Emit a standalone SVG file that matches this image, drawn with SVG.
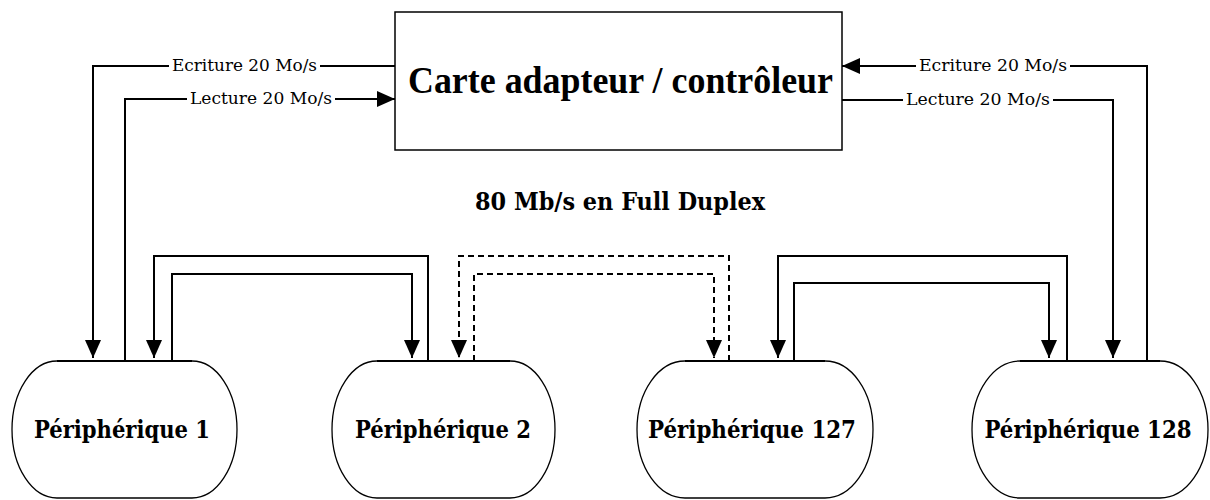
<svg xmlns="http://www.w3.org/2000/svg" width="1210" height="500" viewBox="0 0 1210 500">
  <style>
    .wire { fill: none; stroke: #000; stroke-width: 2; }
    .dash { stroke-dasharray: 6 4; }
    .outline { fill: #fff; stroke: #000; stroke-width: 1.3; }
    .lid { stroke: #000; stroke-width: 2; }
    .lbl { font-family: "DejaVu Serif", "Liberation Serif", serif; font-size: 16.5px; fill: #000; }
    .dev { font-family: "DejaVu Serif Condensed", "DejaVu Serif", "Liberation Serif", serif; font-stretch: condensed; font-weight: bold; font-size: 25px; fill: #000; text-anchor: middle; }
    .head { font-family: "Liberation Serif", "Times New Roman", serif; font-weight: bold; font-size: 37px; fill: #000; }
    .rate { font-family: "DejaVu Serif Condensed", "DejaVu Serif", "Liberation Serif", serif; font-stretch: condensed; font-weight: bold; font-size: 25px; fill: #000; }
  </style>
  <defs>
    <marker id="arrow" markerUnits="userSpaceOnUse" markerWidth="18" markerHeight="16" refX="18" refY="8" orient="auto">
      <path d="M0,0 L18,8 L0,16 Z" fill="#000" stroke="none"/>
    </marker>
  </defs>

  <rect width="1210" height="500" fill="#fff"/>

  <!-- controller card -->
  <g id="controleur">
    <rect x="395" y="12" width="447" height="138" fill="#fff" stroke="#000" stroke-width="1.5"/>
    <text class="head" x="408" y="93" textLength="425" lengthAdjust="spacingAndGlyphs">Carte adapteur / contrôleur</text>
  </g>

  <text id="debit" class="rate" x="475" y="210" textLength="290" lengthAdjust="spacingAndGlyphs">80 Mb/s en Full Duplex</text>

  <!-- peripherals: flat top, elliptic sides -->
  <g id="peripherique-1">
    <path class="outline" d="M57,361 H192 A45,68.5 0 0 1 192,498 H57 A45,68.5 0 0 1 57,361 Z"/>
    <line class="lid" x1="57" y1="361" x2="192" y2="361"/>
    <text class="dev" x="122" y="438" textLength="176" lengthAdjust="spacingAndGlyphs">Périphérique 1</text>
  </g>
  <g id="peripherique-2">
    <path class="outline" d="M377,361 H510 A45,68.5 0 0 1 510,498 H377 A45,68.5 0 0 1 377,361 Z"/>
    <line class="lid" x1="377" y1="361" x2="510" y2="361"/>
    <text class="dev" x="443" y="438" textLength="176" lengthAdjust="spacingAndGlyphs">Périphérique 2</text>
  </g>
  <g id="peripherique-127">
    <path class="outline" d="M685,361 H825 A48,68.5 0 0 1 825,498 H685 A48,68.5 0 0 1 685,361 Z"/>
    <line class="lid" x1="685" y1="361" x2="825" y2="361"/>
    <text class="dev" x="752" y="438" textLength="208" lengthAdjust="spacingAndGlyphs">Périphérique 127</text>
  </g>
  <g id="peripherique-128">
    <path class="outline" d="M1020,361 H1160 A48,68.5 0 0 1 1160,498 H1020 A48,68.5 0 0 1 1020,361 Z"/>
    <line class="lid" x1="1020" y1="361" x2="1160" y2="361"/>
    <text class="dev" x="1088" y="438" textLength="207" lengthAdjust="spacingAndGlyphs">Périphérique 128</text>
  </g>

  <g id="connecteurs">
    <!-- left side: card <-> peripheral 1 -->
    <path class="wire" d="M395,66 H320"/>
    <path class="wire" d="M169,66 H93 V358" marker-end="url(#arrow)"/>
    <text class="lbl" x="172" y="71" textLength="145" lengthAdjust="spacingAndGlyphs">Ecriture 20 Mo/s</text>
    <path class="wire" d="M125,361 V99 H187"/>
    <path class="wire" d="M335,99 H395" marker-end="url(#arrow)"/>
    <text class="lbl" x="190" y="104" textLength="142" lengthAdjust="spacingAndGlyphs">Lecture 20 Mo/s</text>

    <!-- right side: card <-> peripheral 128 -->
    <path class="wire" d="M1147,361 V66 H1070"/>
    <path class="wire" d="M916,66 H842" marker-end="url(#arrow)"/>
    <text class="lbl" x="919" y="71" textLength="148" lengthAdjust="spacingAndGlyphs">Ecriture 20 Mo/s</text>
    <path class="wire" d="M842,100 H903"/>
    <path class="wire" d="M1053,100 H1113 V358" marker-end="url(#arrow)"/>
    <text class="lbl" x="906" y="105" textLength="144" lengthAdjust="spacingAndGlyphs">Lecture 20 Mo/s</text>

    <!-- chain 1 <-> 2 -->
    <path class="wire" d="M428,361 V256 H154 V358" marker-end="url(#arrow)"/>
    <path class="wire" d="M172,361 V274 H412 V358" marker-end="url(#arrow)"/>

    <!-- chain 2 <-> 127 (elided devices) -->
    <path class="wire dash" d="M729,361 V256 H459 V358" marker-end="url(#arrow)"/>
    <path class="wire dash" d="M474,361 V274 H714 V358" marker-end="url(#arrow)"/>

    <!-- chain 127 <-> 128 -->
    <path class="wire" d="M1067,361 V256 H778 V358" marker-end="url(#arrow)"/>
    <path class="wire" d="M794,361 V283 H1049 V358" marker-end="url(#arrow)"/>
  </g>
</svg>
